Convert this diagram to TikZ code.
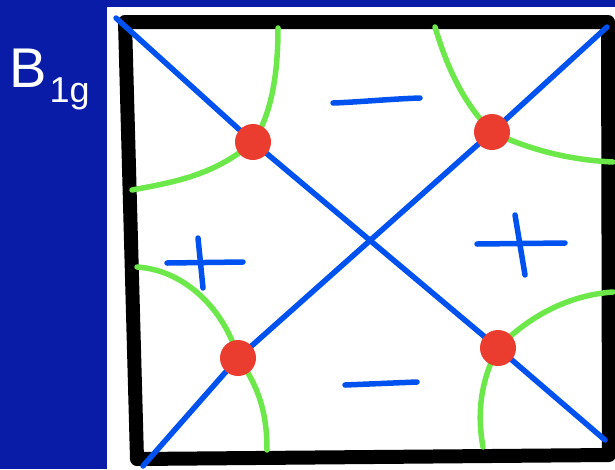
\documentclass[tikz,border=0pt]{standalone}
\usepackage{fontspec}
\setmainfont{Liberation Sans}
\definecolor{slideblue}{RGB}{8,28,168}
\definecolor{penblue}{RGB}{0,82,240}
\definecolor{pengreen}{RGB}{108,232,74}
\definecolor{dotred}{RGB}{234,61,47}
\usetikzlibrary{positioning}
\tikzset{
  frameline/.style={draw=black,line width=14pt,line join=round,line cap=round},
  nodeline/.style={draw=penblue,line width=5.5pt,line cap=round,line join=round},
  lobeline/.style={draw=pengreen,line width=5.5pt,line cap=round},
  signline/.style={draw=penblue,line width=5.5pt,line cap=round},
  crosspt/.style={circle,fill=dotred,inner sep=0pt,minimum size=36pt},
}

\begin{document}
\begin{tikzpicture}[x=1pt,y=-1pt]
        \useasboundingbox (0,0) rectangle (615,469);
        \fill[slideblue] (0,0) rectangle (615,469);
        \fill[white] (107,7) rectangle (615,469);
        % irrep label
        \node[anchor=base west,inner sep=0pt,text=white,
              font=\fontsize{56}{56}\selectfont] (irrep) at (9,87)
          {B\hspace{3pt}\raisebox{-15pt}{\fontsize{36}{36}\selectfont 1g}};
        % square frame
        \draw[frameline] (125,22) -- (608,22) -- (609,455) -- (137,459) -- cycle;
        % corners and crossing points
        \coordinate (tl) at (116,18);
        \coordinate (tr) at (607,27);
        \coordinate (bl) at (143,466);
        \coordinate (br) at (605,440);
        \coordinate (nw) at (253,142);
        \coordinate (ne) at (492,132);
        \coordinate (sw) at (238,358);
        \coordinate (se) at (498,348);
        % nodal diagonals
        \draw[nodeline] (tl) -- (nw) -- (se) -- (br);
        \draw[nodeline] (tr) -- (ne) -- (sw) -- (bl);
        % green lobes
        \draw[lobeline] (nw) .. controls (275,110) and (278,60) .. (278,28);
        \draw[lobeline] (nw) .. controls (215,175) and (175,182) .. (132,190);
        \draw[lobeline] (ne) .. controls (460,100) and (445,60) .. (435,27);
        \draw[lobeline] (ne) .. controls (530,150) and (570,160) .. (613,162);
        \draw[lobeline] (sw) .. controls (225,310) and (185,270) .. (137,267);
        \draw[lobeline] (sw) .. controls (262,390) and (267,420) .. (267,450);
        \draw[lobeline] (se) .. controls (530,315) and (570,295) .. (613,292);
        \draw[lobeline] (se) .. controls (478,385) and (478,420) .. (483,447);
        % red dots
        \node[crosspt] (dnw) at (nw) {};
        \node[crosspt] (dne) at (ne) {};
        \node[crosspt] (dsw) at (sw) {};
        \node[crosspt] (dse) at (se) {};
        % signs
        \draw[signline] (333,103) .. controls (360,102) and (390,99) .. (420,98);
        \draw[signline] (345,385) -- (417,382);
        \draw[signline] (167,263) -- (243,262);
        \draw[signline] (198,238) -- (203,288);
        \draw[signline] (477,244) -- (565,243);
        \draw[signline] (515,215) -- (525,275);
      \end{tikzpicture}
\end{document}
